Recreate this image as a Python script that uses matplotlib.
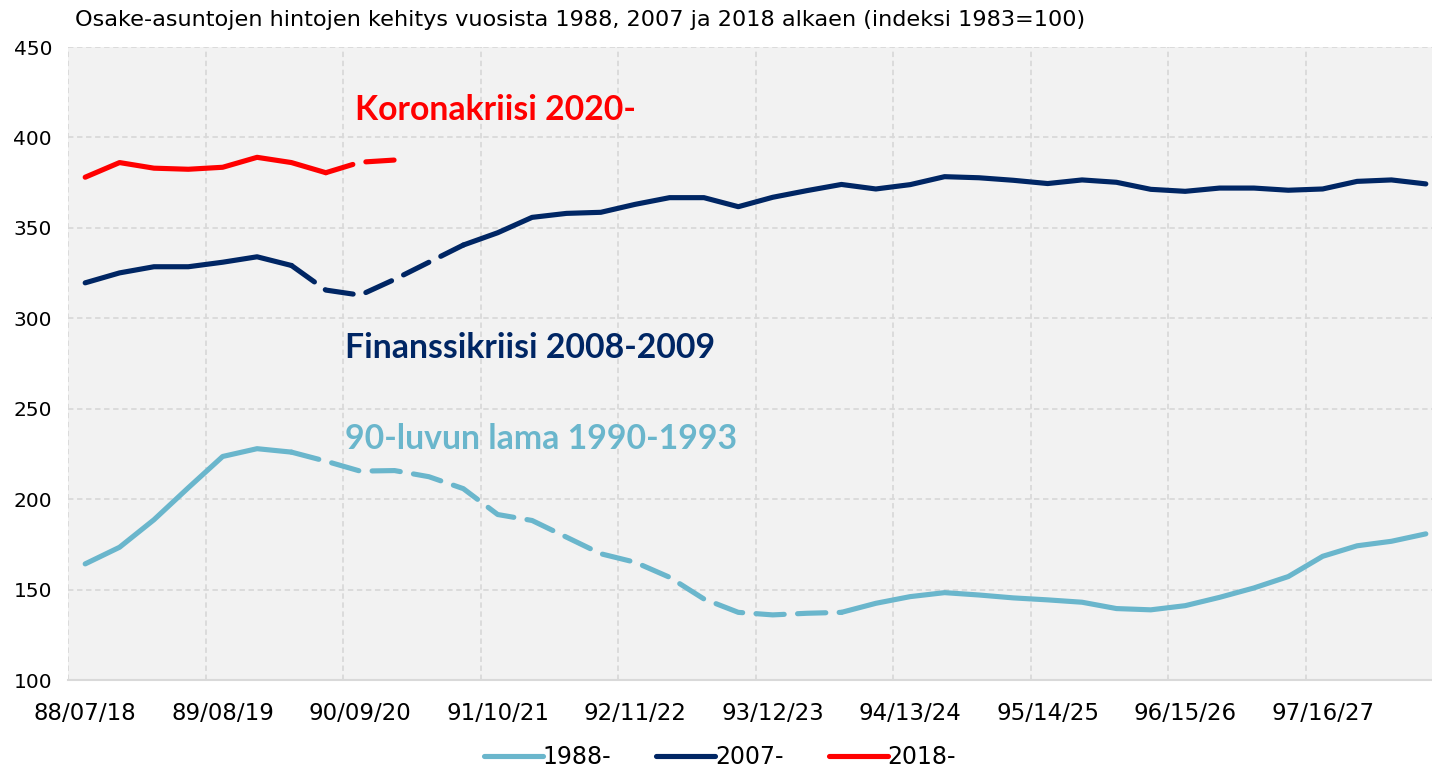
import matplotlib
matplotlib.use("Agg")
import matplotlib.pyplot as plt
from matplotlib.lines import Line2D
import numpy as np

# ---- data ----
tick_labels = ["88/07/18", "89/08/19", "90/09/20", "91/10/21", "92/11/22",
               "93/12/23", "94/13/24", "95/14/25", "96/15/26", "97/16/27"]

s1988 = [164.2, 173.4, 188.6, 206.3, 223.6, 227.9, 226.0, 221.0, 215.5, 215.8,
         212.4, 205.8, 191.5, 188.2, 179.0, 169.8, 165.1, 156.8, 144.8, 137.4,
         136.0, 136.9, 137.4, 142.4, 146.1, 148.3, 147.0, 145.4, 144.3, 143.0,
         139.5, 138.8, 141.1, 145.7, 150.9, 157.2, 168.4, 174.2, 176.7, 180.8]
s2007 = [319.6, 325.1, 328.5, 328.5, 331.0, 334.0, 329.2, 315.6, 312.8, 321.5,
         331.0, 340.5, 347.3, 355.8, 358.0, 358.6, 363.0, 366.7, 366.7, 361.7,
         366.9, 370.6, 374.0, 371.5, 373.9, 378.3, 377.7, 376.3, 374.5, 376.5,
         375.2, 371.3, 370.2, 372.0, 372.0, 370.8, 371.5, 375.7, 376.5, 374.3]
s2018 = [378.0, 386.1, 383.0, 382.4, 383.5, 389.0, 386.1, 380.5, 386.3, 387.5]

series_names = ["1988-", "2007-", "2018-"]
# crisis periods drawn dashed (start index, end index)
dashed_1988 = (6, 22)
dashed_2007 = (6, 11)
dashed_2018 = (7, 9)

annotations = ["Koronakriisi 2020-", "Finanssikriisi 2008-2009", "90-luvun lama 1990-1993"]

# ---- style ----
C1988 = "#6AB6CC"
C2007 = "#002664"
C2018 = "#FF0000"
LW = 3.7

W, H = 1432, 770
fig = plt.figure(figsize=(W / 100, H / 100), dpi=100)
fig.patch.set_facecolor("white")
left, right, top, bottom = 68, 1443, 47, 680
ax = fig.add_axes([left / W, (H - bottom) / H, (right - left) / W, (bottom - top) / H])
ax.set_facecolor("#F2F2F2")

font = "DejaVu Sans"


def draw(vals, dashed, color):
    x = np.arange(len(vals))
    v = np.array(vals)
    a, b = dashed
    kw = dict(color=color, lw=LW, solid_capstyle="round", dash_capstyle="round",
              solid_joinstyle="round", zorder=3)
    ax.plot(x[:a + 1], v[:a + 1], **kw)
    ax.plot(x[a:b + 1], v[a:b + 1], linestyle=(0, (5.5, 2.6)), **kw)
    if b < len(vals) - 1:
        ax.plot(x[b:], v[b:], **kw)


draw(s1988, dashed_1988, C1988)
draw(s2007, dashed_2007, C2007)
draw(s2018, dashed_2018, C2018)

n = len(s1988)
ax.set_xlim(-0.5, n - 0.5)
ax.set_ylim(100, 450)
ax.set_yticks(np.arange(100, 451, 50))
ax.set_xticks(np.arange(0, n, 4))
ax.set_xticklabels(tick_labels)
ax.grid(False)
for yv in np.arange(150, 451, 50):
    ax.axhline(yv, color="#D9D9D9", lw=1.3, ls=(0, (3, 2)), zorder=1)
for xv in np.arange(-0.5, n, 4):
    ax.axvline(xv, color="#D9D9D9", lw=1.3, ls=(0, (3, 2)), zorder=1)

for s in ["top", "right", "left"]:
    ax.spines[s].set_visible(False)
ax.spines["bottom"].set_color("#D9D9D9")
ax.spines["bottom"].set_linewidth(1.5)
ax.tick_params(axis="both", which="both", length=0)
ax.tick_params(axis="y", pad=11.5, labelsize=14.5)
ax.tick_params(axis="x", pad=16, labelsize=16.5)
for lab in ax.get_xticklabels() + ax.get_yticklabels():
    lab.set_fontfamily(font)

fig.text(75 / W, 1 - 20 / H, "Osake-asuntojen hintojen kehitys vuosista 1988, 2007 ja 2018 alkaen (indeksi 1983=100)",
         fontsize=16.1, family=font, va="center", ha="left")

ann_font = "Lato"
ax.text(7.85, 409.7, annotations[0], color=C2018, fontsize=24.3, fontweight="bold",
        family=ann_font, va="baseline", ha="left")
ax.text(7.56, 277.9, annotations[1], color=C2007, fontsize=24.3, fontweight="bold",
        family=ann_font, va="baseline", ha="left")
ax.text(7.56, 227.5, annotations[2], color=C1988, fontsize=24.3, fontweight="bold",
        family=ann_font, va="baseline", ha="left")

handles = [Line2D([0], [0], color=c, lw=LW, solid_capstyle="round") for c in (C1988, C2007, C2018)]
leg = fig.legend(handles, series_names, loc="center", bbox_to_anchor=(720 / W, 1 - 757 / H),
                 ncol=3, frameon=False, handlelength=2.5, handletextpad=0.0,
                 columnspacing=1.9, prop={"family": font, "size": 17})

fig.savefig("out.png", dpi=100, facecolor="white")
